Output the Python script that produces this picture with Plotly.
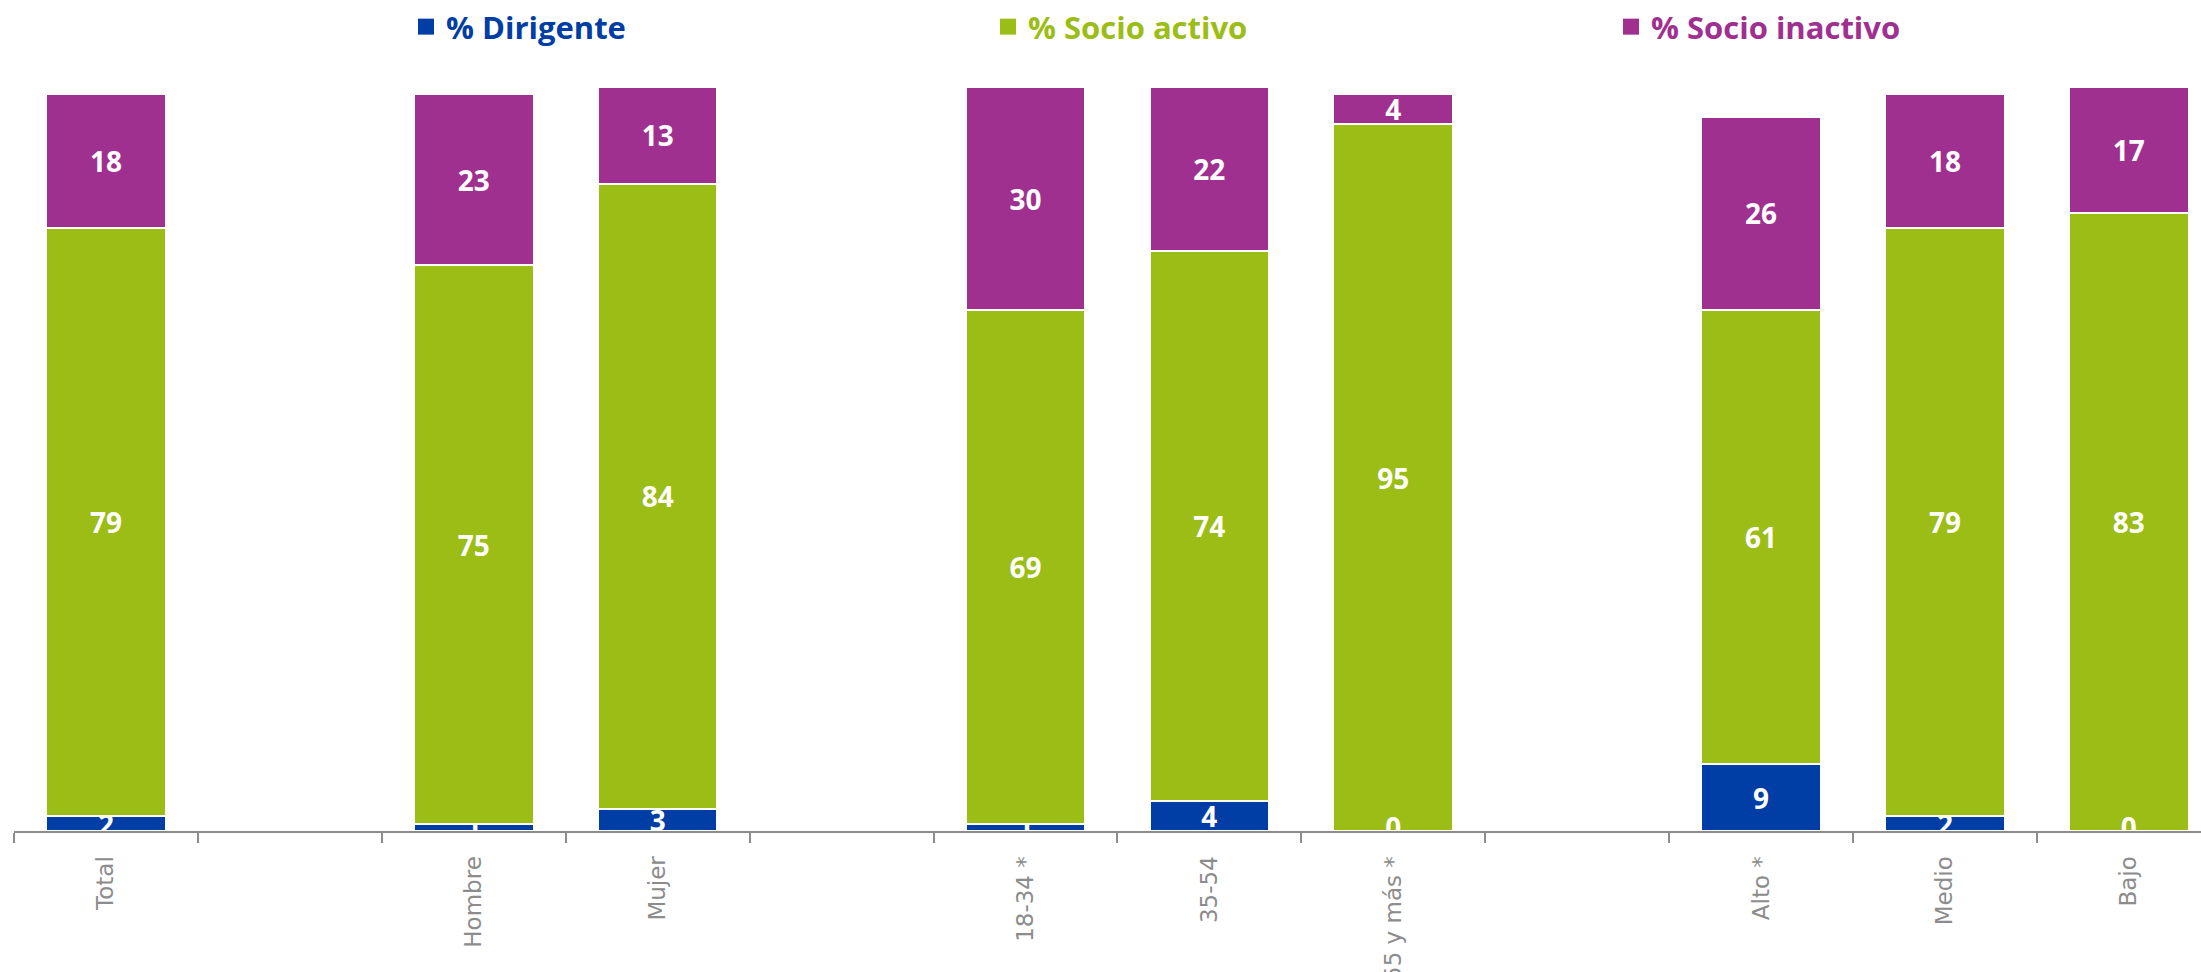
import plotly.graph_objects as go

# Categories (spacer categories separate the groups)
categories = ["Total", " ", "Hombre", "Mujer", "  ", "18-34 *", "35-54", "55 y más *",
              "   ", "Alto *", "Medio", "Bajo"]

dirigente = [2, None, 1, 3, None, 1, 4, 0, None, 9, 2, 0]
socio_activo = [79, None, 75, 84, None, 69, 74, 95, None, 61, 79, 83]
socio_inactivo = [18, None, 23, 13, None, 30, 22, 4, None, 26, 18, 17]

series_names = ["% Dirigente", "% Socio activo", "% Socio inactivo"]
series_colors = ["#003DA5", "#9BBD15", "#A0308F"]
series_values = [dirigente, socio_activo, socio_inactivo]

W, H = 2201, 972
ML, MR, MT, MB = 14, 0, 72, 141

fig = go.Figure()
legend_ids = ["legend", "legend2", "legend3"]
for name, color, vals in zip(series_names, series_colors, series_values):
    fig.add_trace(go.Bar(
        x=categories, y=vals, name=name, showlegend=False,
        marker=dict(color=color, line=dict(color="white", width=2)),
        texttemplate="%{y}", textposition="inside", insidetextanchor="middle",
        constraintext="none", textangle=0,
        textfont=dict(family="Open Sans", size=28, color="white", weight="bold"),
        width=0.65, hoverinfo="x+y+name",
    ))

# zero-valued segments still carry a label sitting on the baseline (clipped by the axis)
for name, vals in zip(series_names, series_values):
    zx = [c for c, v in zip(categories, vals) if v == 0]
    if zx:
        fig.add_trace(go.Scatter(
            x=zx, y=[0] * len(zx), mode="text", text=["0"] * len(zx),
            textposition="middle center", cliponaxis=True, showlegend=False,
            textfont=dict(family="Open Sans", size=28, color="white", weight="bold"),
            hoverinfo="skip",
        ))

# legend entries (one legend per series, each in its own colour)
for name, color, lid in zip(series_names, series_colors, legend_ids):
    fig.add_trace(go.Scatter(
        x=[None], y=[None], mode="markers", name=name, legend=lid,
        marker=dict(symbol="square", size=18, color=color), showlegend=True,
    ))

plot_w = W - ML - MR
plot_h = H - MT - MB
cat_px = 183.9
x_hi = plot_w / cat_px - 0.5

legend_y_px = 27
legend_common = dict(orientation="h", yanchor="middle", xanchor="left",
                     y=(MT + plot_h - legend_y_px) / plot_h,
                     bgcolor="rgba(0,0,0,0)", borderwidth=0, itemsizing="trace")
leg_px = [406, 988, 1611]
layouts = {}
for lid, px, color in zip(legend_ids, leg_px, series_colors):
    layouts[lid] = dict(legend_common, x=(px - ML) / plot_w,
                        font=dict(family="Open Sans", size=31, color=color, weight="bold"))

fig.update_layout(
    width=W, height=H,
    margin=dict(l=ML, r=MR, t=MT, b=MB, pad=0, autoexpand=False),
    barmode="stack",
    plot_bgcolor="white", paper_bgcolor="white",
    showlegend=True,
    **layouts,
    xaxis=dict(type="category", categoryorder="array", categoryarray=categories,
               range=[-0.5, x_hi], tickson="boundaries", ticks="outside", ticklen=10,
               tickwidth=2, tickcolor="#8C8C8C", showline=True, linecolor="#8C8C8C",
               linewidth=2, tickangle=-90, showgrid=False, ticklabelstandoff=14,
               automargin=False,
               tickfont=dict(family="DejaVu Sans", size=23, color="#8C8C8C")),
    yaxis=dict(range=[0, 102], visible=False, showgrid=False, automargin=False),
)

# remove the default page margin so the figure fills the window exactly
fig.write_html("out.html", config={"displayModeBar": False},
               post_script="document.body.style.margin='0';document.body.style.overflow='hidden';")
